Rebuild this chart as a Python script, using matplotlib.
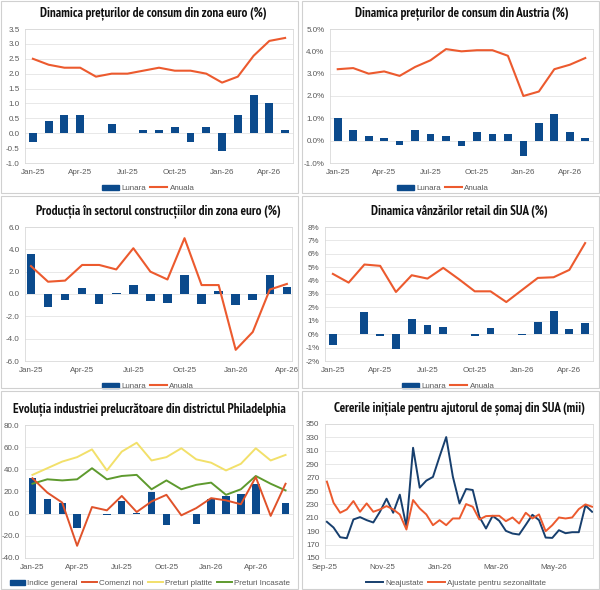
import numpy as np
import pandas as pd
import matplotlib
matplotlib.use("Agg")
import matplotlib.pyplot as plt
import matplotlib.dates as mdates
from matplotlib.patches import Rectangle, Patch
from matplotlib.lines import Line2D
from matplotlib.ticker import FuncFormatter, MultipleLocator

# fonturi
font_titlu = ["PT Sans Narrow", "Roboto Condensed", "DejaVu Sans"]
plt.rcParams["font.family"] = ["Liberation Sans", "DejaVu Sans"]

# ---- date ----
luni17 = ["Jan-25", "Feb-25", "Mar-25", "Apr-25", "May-25", "Jun-25", "Jul-25", "Aug-25", "Sep-25",
          "Oct-25", "Nov-25", "Dec-25", "Jan-26", "Feb-26", "Mar-26", "Apr-26", "May-26"]
luni16 = luni17[:16]
luni18 = luni17 + ["Jun-26"]

# Dinamica preturilor de consum din zona euro (%)
ez_lunara = [-0.3, 0.4, 0.6, 0.6, 0.0, 0.3, 0.0, 0.1, 0.1, 0.2, -0.3, 0.2, -0.6, 0.6, 1.3, 1.0, 0.1]
ez_anuala = [2.5, 2.3, 2.2, 2.2, 1.9, 2.0, 2.0, 2.1, 2.2, 2.1, 2.1, 2.0, 1.7, 1.9, 2.6, 3.1, 3.2]

# Dinamica preturilor de consum din Austria (%)
at_lunara = [1.0, 0.5, 0.2, 0.1, -0.2, 0.5, 0.3, 0.2, -0.25, 0.4, 0.3, 0.3, -0.7, 0.8, 1.2, 0.4, 0.1]
at_anuala = [3.2, 3.25, 3.0, 3.1, 2.9, 3.3, 3.6, 4.1, 4.0, 4.05, 4.05, 3.8, 2.0, 2.2, 3.2, 3.4, 3.7]

# Productia in sectorul constructiilor din zona euro (%)
cons_lunara = [3.6, -1.2, -0.5, 0.5, -0.9, 0.1, 0.8, -0.6, -0.8, 1.7, -0.9, 0.3, -1.0, -0.5, 1.7, 0.6]
cons_anuala = [2.5, 1.1, 1.2, 2.6, 2.6, 2.2, 4.1, 2.0, 1.3, 5.0, 0.8, 0.8, -5.0, -3.4, 0.4, 0.9]

# Dinamica vanzarilor retail din SUA (%)
ret_lunara = [-0.8, 0.05, 1.65, -0.1, -1.1, 1.15, 0.65, 0.55, 0.05, -0.15, 0.5, 0.0, -0.03, 0.9, 1.7, 0.4, 0.85]
ret_anuala = [4.5, 3.85, 5.2, 5.1, 3.15, 4.4, 4.15, 4.95, 4.1, 3.2, 3.2, 2.4, 3.3, 4.2, 4.25, 4.8, 6.8]

# Evolutia industriei prelucratoare din districtul Philadelphia
ph_indice = [32.5, 13.5, 10.0, -13.0, -0.3, -1.5, 11.0, 0.5, 19.5, -10.0, 0.0, -9.0,
             13.0, 16.0, 18.0, 26.5, 0.0, 10.0]
ph_comenzi = [32, 19, 10, -29, 6, 3, 16, 1.5, 11, 17, -1.5, 5, 14, 12, 8.5, 33, -2, 27]
ph_platite = [35, 41, 47, 51, 58, 39, 56, 64, 48, 51, 59, 49, 46, 39, 45, 59, 48, 53]
ph_incasate = [27, 31, 30, 31, 41, 31, 34, 35, 22, 30, 22, 26, 28, 17, 22, 34, 27, 21]

# Cererile initiale pentru ajutorul de somaj din SUA (mii)
somaj_start = "2025-09-03"
somaj_neajustate = [204, 195.5, 181, 179.5, 207.5, 211, 206.5, 203, 219, 238.5, 217.5, 244.5, 196.5,
                    314.5, 255, 265.5, 271, 301.5, 330.5, 271.5, 231.5, 253, 251.5, 211.5, 194, 213,
                    205.5, 190.5, 186.5, 185, 199.5, 214.5, 206.5, 180.5, 180, 191.5, 187, 188.5,
                    188.5, 228.5, 219]
somaj_ajustate = [264, 232.5, 217.5, 222.5, 235, 219, 231.5, 219, 222.5, 227.5, 222.5, 215, 192.5,
                  236.5, 224, 215, 199, 206.5, 199, 209, 209, 230.5, 226.5, 207.5, 212.5, 213,
                  213, 205, 210.5, 201.5, 217.5, 209, 215, 190, 199, 210.5, 209, 210.5, 223,
                  230, 226.5]

# ---- stil ----
ALBASTRU = "#0B4A8C"
PORTOCALIU = "#EC5A2E"
GRI_TEXT = "#595959"
GRI_GRID = "#E4E4E4"
FS = 5.8

fig = plt.figure(figsize=(6.0, 5.9), dpi=100)

# chenarele celor sase grafice
for (x0, y0, w, h) in [(1, 1, 297, 192), (302, 1, 297, 192),
                       (1, 196, 297, 192), (302, 196, 297, 192),
                       (1, 391, 297, 198), (302, 391, 297, 198)]:
    fig.patches.append(Rectangle((x0 / 600, 1 - (y0 + h) / 590), w / 600, h / 590,
                                 transform=fig.transFigure, fill=False,
                                 edgecolor="#D0D0D0", linewidth=0.8))


def axa(left, top, right, bottom):
    ax = fig.add_axes([left / 600, 1 - bottom / 590, (right - left) / 600, (bottom - top) / 590])
    for s in ax.spines.values():
        s.set_color("#D9D9D9")
        s.set_linewidth(0.6)
    ax.grid(axis="y", color=GRI_GRID, linewidth=0.6)
    ax.set_axisbelow(True)
    ax.tick_params(length=0, labelsize=FS, colors=GRI_TEXT, pad=4)
    return ax


def titlu(ax, text, x=0.5):
    ax.set_title(text, family=font_titlu, fontweight="bold", fontsize=9.4, pad=9,
                 color="#111111", x=x)


def legenda(ax, handles, y, ncol, x=0.5, hl=2.1):
    ax.legend(handles=handles, loc="center", bbox_to_anchor=(x, y), ncol=ncol, frameon=False,
              fontsize=FS, labelcolor=GRI_TEXT, handlelength=hl, handleheight=0.6,
              columnspacing=0.5, handletextpad=0.3, borderaxespad=0)


def bare_linie(ax, luni, lunara, anuala, ymin, ymax, pas, fmt):
    x = np.arange(len(luni))
    ax.bar(x, lunara, width=0.5, color=ALBASTRU, zorder=2)
    ax.plot(x, anuala, color=PORTOCALIU, linewidth=1.5, zorder=3)
    ax.set_xlim(-0.5, len(luni) - 0.5)
    ax.set_ylim(ymin, ymax)
    ax.yaxis.set_major_locator(MultipleLocator(pas))
    ax.yaxis.set_major_formatter(FuncFormatter(fmt))
    ax.set_xticks(x[::3])
    ax.set_xticklabels(luni[::3])
    handles = [Patch(color=ALBASTRU, label="Lunara"),
               Line2D([], [], color=PORTOCALIU, linewidth=1.5, label="Anuala")]
    return handles


# 1. zona euro
ax1 = axa(25, 29, 293, 163)
h = bare_linie(ax1, luni17, ez_lunara, ez_anuala, -1.0, 3.5, 0.5, lambda v, p: f"{v:.1f}")
titlu(ax1, "Dinamica prețurilor de consum din zona euro (%)", x=0.48)
legenda(ax1, h, -0.19, 2, x=0.46)

# 2. Austria
ax2 = axa(330, 29, 593, 163)
h = bare_linie(ax2, luni17, at_lunara, at_anuala, -1.0, 5.0, 1.0, lambda v, p: f"{v:.1f}%")
titlu(ax2, "Dinamica prețurilor de consum din Austria (%)")
legenda(ax2, h, -0.19, 2, x=0.43)

# 3. constructii
ax3 = axa(25, 227, 292, 361)
h = bare_linie(ax3, luni16, cons_lunara, cons_anuala, -6.0, 6.0, 2.0, lambda v, p: f"{v:.1f}")
ax3.set_xlim(-0.35, 15.3)
titlu(ax3, "Producția în sectorul construcțiilor din zona euro (%)")
legenda(ax3, h, -0.19, 2, x=0.46)

# 4. retail SUA
ax4 = axa(325, 227, 593, 361)
h = bare_linie(ax4, luni17, ret_lunara, ret_anuala, -2.0, 8.0, 1.0, lambda v, p: f"{v:.0f}%")
titlu(ax4, "Dinamica vânzărilor retail din SUA (%)")
legenda(ax4, h, -0.19, 2, x=0.46)

# 5. Philadelphia
ax5 = axa(25, 425, 293, 558)
x = np.arange(len(luni18))
ax5.bar(x, ph_indice, width=0.5, color=ALBASTRU, zorder=2)
ax5.plot(x, ph_comenzi, color="#E0522A", linewidth=1.4, zorder=4)
ax5.plot(x, ph_platite, color="#F2E06A", linewidth=1.4, zorder=3)
ax5.plot(x, ph_incasate, color="#5E9A2E", linewidth=1.4, zorder=3)
ax5.set_xlim(-0.5, len(luni18) - 0.5)
ax5.set_ylim(-40, 80)
ax5.yaxis.set_major_locator(MultipleLocator(20))
ax5.yaxis.set_major_formatter(FuncFormatter(lambda v, p: f"{v:.1f}"))
ax5.set_xticks(x[::3])
ax5.set_xticklabels(luni18[::3])
titlu(ax5, "Evoluția industriei prelucrătoare din districtul Philadelphia", x=0.465)
legenda(ax5, [Patch(color=ALBASTRU, label="Indice general"),
              Line2D([], [], color="#E0522A", linewidth=1.4, label="Comenzi noi"),
              Line2D([], [], color="#F2E06A", linewidth=1.4, label="Preturi platite"),
              Line2D([], [], color="#5E9A2E", linewidth=1.4, label="Preturi Incasate")],
        -0.19, 4, x=0.466, hl=1.9)

# 6. somaj SUA
ax6 = axa(325, 424, 593, 558)
zile = pd.date_range(somaj_start, periods=len(somaj_neajustate), freq="7D")
ax6.plot(zile, somaj_neajustate, color="#173F6E", linewidth=1.4, zorder=3)
ax6.plot(zile, somaj_ajustate, color=PORTOCALIU, linewidth=1.4, zorder=3)
ax6.set_xlim(pd.Timestamp("2025-09-01"), zile[-1] + pd.Timedelta(days=1))
ax6.set_ylim(150, 350)
ax6.set_yticks(np.arange(150, 351, 20))
ax6.xaxis.set_major_locator(mdates.MonthLocator(bymonth=[1, 3, 5, 9, 11]))
ax6.xaxis.set_major_formatter(mdates.DateFormatter("%b-%y"))
titlu(ax6, "Cererile inițiale pentru ajutorul de șomaj din SUA (mii)")
legenda(ax6, [Line2D([], [], color="#173F6E", linewidth=1.4, label="Neajustate"),
              Line2D([], [], color=PORTOCALIU, linewidth=1.4, label="Ajustate pentru sezonalitate")],
        -0.19, 2, x=0.49)

fig.savefig("out.png", dpi=100)
